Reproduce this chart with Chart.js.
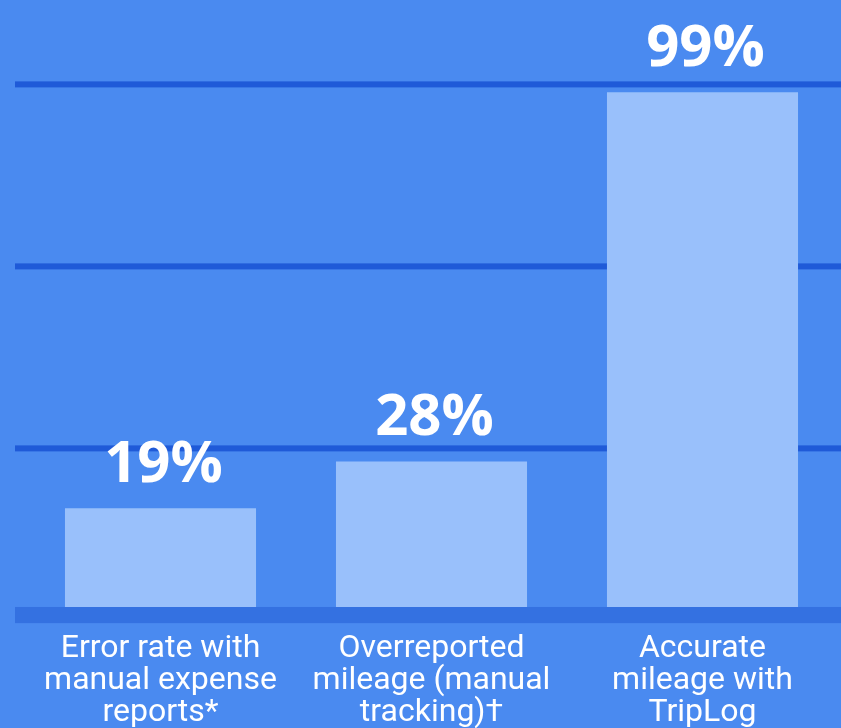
<!DOCTYPE html>
<html>
<head>
<meta charset="utf-8">
<script src="https://cdn.jsdelivr.net/npm/chart.js@4.4.1/dist/chart.umd.min.js"></script>
<style>
  html, body { margin: 0; padding: 0; background: #4a8af0; }
  #wrap { width: 841px; height: 728px; position: relative; }
</style>
</head>
<body>
<div id="wrap"><canvas id="c"></canvas></div>
<script>
const categories = [
  ["Error rate with", "manual expense", "reports*"],
  ["Overreported", "mileage (manual", "tracking)†"],
  ["Accurate", "mileage with", "TripLog"]
];
const values = [19, 28, 99];
const valueLabels = ["19%", "28%", "99%"];
const gridValues = [30.5, 65.5, 100.5];

const bgPlugin = {
  id: 'bg',
  beforeDraw(chart) {
    const ctx = chart.ctx;
    ctx.save();
    ctx.fillStyle = '#4a8af0';
    ctx.fillRect(0, 0, chart.width, chart.height);
    ctx.restore();
  }
};

const linesPlugin = {
  id: 'lines',
  beforeDatasetsDraw(chart) {
    const ctx = chart.ctx;
    const y = chart.scales.y;
    const x0 = 15, x1 = chart.width;
    ctx.save();
    ctx.fillStyle = '#1f5ad8';
    gridValues.forEach(v => {
      const py = y.getPixelForValue(v);
      ctx.fillRect(x0, py - 3, x1 - x0, 6);
    });
    const top = y.getPixelForValue(0);
    const bot = y.getPixelForValue(y.min);
    ctx.fillStyle = '#3471e1';
    ctx.fillRect(x0, top, x1 - x0, bot - top);
    ctx.restore();
  }
};

const valuePlugin = {
  id: 'values',
  afterDatasetsDraw(chart) {
    const ctx = chart.ctx;
    const meta = chart.getDatasetMeta(0);
    ctx.save();
    ctx.fillStyle = '#ffffff';
    ctx.font = 'bold 58px "Open Sans"';
    ctx.textAlign = 'center';
    ctx.textBaseline = 'alphabetic';
    meta.data.forEach((bar, i) => {
      ctx.fillText(valueLabels[i], bar.x + 3, bar.y - 26);
    });
    ctx.restore();
  }
};

new Chart(document.getElementById('c'), {
  type: 'bar',
  data: {
    labels: categories,
    datasets: [{
      data: values,
      backgroundColor: '#99c0fb',
      borderWidth: 0,
      categoryPercentage: 1,
      barPercentage: 0.705
    }]
  },
  options: {
    responsive: true,
    maintainAspectRatio: false,
    animation: false,
    devicePixelRatio: 1,
    layout: { padding: { left: 25, right: 3, top: 66.2, bottom: 0 } },
    plugins: { legend: { display: false }, tooltip: { enabled: false } },
    scales: {
      y: {
        display: false,
        min: -3.1,
        max: 104
      },
      x: {
        grid: { display: false, drawTicks: false },
        border: { display: false },
        ticks: {
          color: '#ffffff',
          font: { family: 'Roboto', size: 32, lineHeight: 1.0 },
          padding: 10,
          maxRotation: 0,
          autoSkip: false
        },
        afterFit(scale) { scale.height = 104.9; }
      }
    }
  },
  plugins: [bgPlugin, linesPlugin, valuePlugin]
});
</script>
</body>
</html>
